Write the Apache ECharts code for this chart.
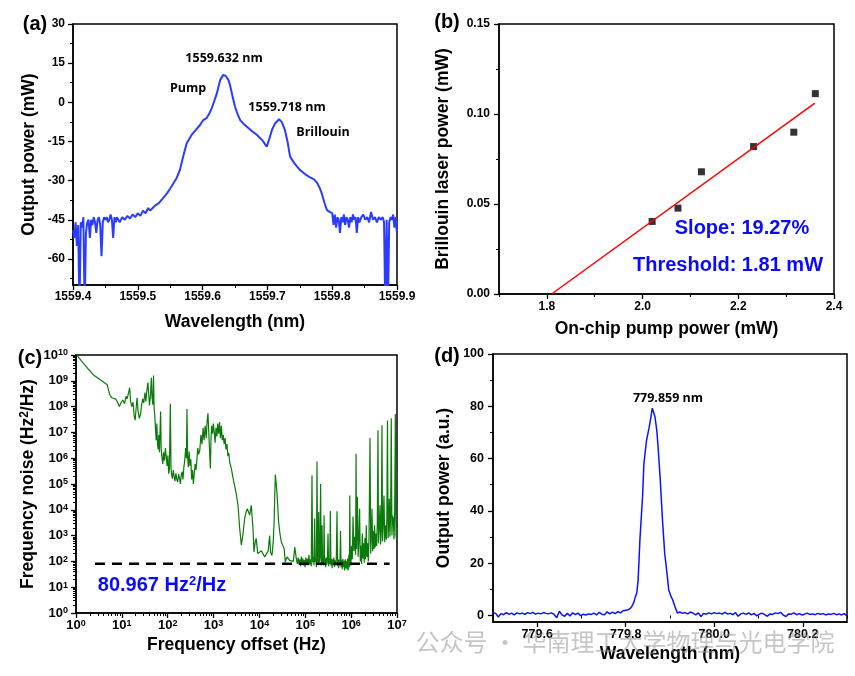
<!DOCTYPE html>
<html>
<head>
<meta charset="utf-8">
<script src="https://cdn.jsdelivr.net/npm/echarts@6.0.0/dist/echarts.min.js"></script>
<style>
  html, body { margin: 0; padding: 0; background: #fff; }
  #chart { width: 855px; height: 676px; }
</style>
</head>
<body>
<div id="chart"></div>
<script>
// (a) optical spectrum: [wavelength (nm), output power]
const aSpectrum = [
  [1559.400,-49],[1559.402,-52],[1559.404,-46],[1559.406,-55],[1559.408,-47],[1559.410,-80],[1559.412,-46],[1559.414,-48],[1559.416,-44],[1559.418,-80],
  [1559.420,-50],[1559.422,-46],[1559.424,-45],[1559.426,-52],[1559.428,-45],[1559.430,-47],[1559.432,-44],[1559.434,-46],[1559.436,-50],[1559.438,-45],
  [1559.440,-44],[1559.442,-47],[1559.444,-59],[1559.446,-46],[1559.448,-44],[1559.450,-45],[1559.452,-44],[1559.454,-46],[1559.456,-45],[1559.458,-43],
  [1559.460,-45],[1559.462,-52],[1559.464,-44],[1559.466,-46],[1559.468,-44],[1559.472,-46],[1559.476,-44],[1559.480,-45],[1559.484,-43.5],[1559.488,-44.5],
  [1559.492,-43],[1559.496,-44],[1559.500,-42.5],[1559.504,-43.5],[1559.508,-41.5],[1559.512,-42.5],[1559.516,-40.5],[1559.519,-41.5],[1559.523,-40.5],[1559.527,-39.5],
  [1559.532,-38.7],[1559.538,-37],[1559.545,-34.9],[1559.550,-33],[1559.555,-31],[1559.560,-29],[1559.565,-25.9],[1559.570,-20.8],[1559.5755,-15.7],[1559.583,-12.5],
  [1559.590,-10.5],[1559.596,-8.7],[1559.601,-6.8],[1559.606,-6.1],[1559.610,-4.5],[1559.614,-2.3],[1559.618,0.5],[1559.622,3.4],[1559.627,8.5],[1559.632,10.5],
  [1559.636,10],[1559.640,8.5],[1559.6423,6.6],[1559.646,2.5],[1559.650,-1.7],[1559.654,-4.5],[1559.658,-6.8],[1559.663,-8.2],[1559.668,-9.3],[1559.676,-11],
  [1559.684,-12.5],[1559.692,-14.5],[1559.699,-17],[1559.703,-14],[1559.707,-10.6],[1559.712,-8],[1559.718,-6.5],[1559.722,-7.5],[1559.727,-10.6],[1559.731,-15],
  [1559.735,-20.8],[1559.742,-23.5],[1559.750,-25.9],[1559.758,-27.5],[1559.766,-28.8],[1559.772,-29.5],[1559.777,-31],[1559.781,-33],[1559.784,-35],[1559.788,-38.5],
  [1559.792,-41.3],[1559.796,-42],[1559.800,-42.5],[1559.802,-47],[1559.804,-43],[1559.806,-48],[1559.808,-44],[1559.810,-45],[1559.812,-50],[1559.814,-44],
  [1559.816,-46],[1559.818,-43],[1559.820,-47],[1559.822,-44],[1559.824,-45],[1559.826,-48],[1559.828,-44],[1559.830,-46],[1559.832,-43],[1559.834,-45],
  [1559.836,-44],[1559.838,-50],[1559.840,-44],[1559.842,-46],[1559.845,-44],[1559.848,-43],[1559.851,-45],[1559.854,-44],[1559.857,-46],[1559.860,-42],
  [1559.863,-45],[1559.866,-44],[1559.869,-46],[1559.872,-44],[1559.875,-45],[1559.878,-44],[1559.880,-46],[1559.882,-80],[1559.884,-45],[1559.886,-80],
  [1559.888,-46],[1559.890,-44],[1559.892,-45],[1559.894,-43],[1559.896,-48],[1559.898,-44],[1559.900,-50]
];
const aYLabels = [-60, -45, -30, -15, 0, 15, 30];
const aYMinor = [-67.5, -52.5, -37.5, -22.5, -7.5, 7.5, 22.5];

// (b) Brillouin laser power vs on-chip pump power
const bPump = [2.020, 2.074, 2.123, 2.232, 2.316, 2.361];
const bBrillouin = [0.0403, 0.0477, 0.0679, 0.0819, 0.0899, 0.1113];
const bFitPump = [1.81, 2.36];
const bFitPower = [0, 0.106];
const bXLabels = [1.8, 2.0, 2.2, 2.4];
const bXMinor = [1.7, 1.9, 2.1, 2.3];

// (c) frequency noise: [offset (Hz), noise (Hz^2/Hz)]
const cSpectrum = [
  [1,1.1e10],[1.3,6e9],[1.8,3e9],[2.5,1.6e9],[3.5,1.05e9],[4.8,7e8],[5.4,3.0e8],[6.0,2.2e8],[6.6,2.6e8],[7.3,2.0e8],
  [8.0,1.5e8],[8.8,1.0e8],[9.6,1.4e8],[10.5,1.8e8],[11.5,1.3e8],[12.3,2.5e8],[13.0,2.0e8],[14.0,3.4e8],[14.8,5.5e8],[15.5,1.6e8],
  [16.5,1.0e8],[17.5,1.5e8],[18.5,4.5e7],[19.5,3.0e7],[20.5,9e7],[21.5,2.2e8],[22.5,7e7],[24,3.5e7],[25.5,5e7],[27,1.2e8],
  [28.5,2.0e8],[30,1.4e8],[32,3.5e8],[33.5,1.6e8],[35,4.0e8],[37,8.5e8],[38.5,3.0e8],[40,1.1e8],[42,2.5e8],[44,1.3e9],
  [45.5,2.2e8],[47.5,1.2e8],[49,1.6e9],[50.5,9e7],[52,5e7],[54,1.5e7],[56,5e6],[58,2.2e7],[60,3.5e6],[62,2.2e6],
  [64,8e6],[66,1.7e6],[70,6.5e7],[72,2.5e6],[75,1.0e6],[78,6e5],[81,1.7e6],[85,8e5],[89,2.5e6],[93,1.1e6],
  [97,5e5],[101,1.3e6],[105,2.5e5],[109,4e5],[114,1.3e8],[118,4e5],[122,2.2e5],[127,1.6e5],[132,3.5e5],[138,2.0e5],
  [144,1.3e5],[151,2.6e5],[158,1.5e5],[165,1.2e5],[173,2.4e5],[181,1.6e5],[189,1.0e5],[197,2.2e5],[206,3.0e5],[215,1.5e5],
  [225,4.5e5],[235,8e5],[246,2.5e6],[256,1.0e6],[263,8e7],[271,1.2e6],[281,4.5e5],[293,1.8e6],[306,5e5],[319,9e5],
  [333,1.5e5],[348,3.5e5],[363,1.0e5],[379,2.5e5],[396,6e5],[414,3.5e5],[433,9e5],[452,2.5e6],[472,1.4e6],[500,2.0e6],
  [530,8e6],[560,3.5e6],[590,1.5e7],[620,5e6],[655,1.8e7],[690,6e6],[720,2.5e7],[755,5.5e7],[790,8e6],[851,4e5],
  [880,6e6],[910,1.8e7],[950,9e6],[990,2.2e7],[1030,1.1e7],[1080,4e6],[1130,1.5e7],[1180,7e6],[1230,2.2e7],[1290,9e6],
  [1350,2.5e7],[1410,6e6],[1480,1.8e7],[1550,5e6],[1620,8e6],[1700,3.5e6],[1780,6e6],[1870,2.2e6],[1960,3.5e6],[2050,1.2e6],
  [2150,1.6e6],[2250,7e5],[2360,8e5],[2470,3.5e5],[2590,4e5],[2710,1.4e5],[2890,1.6e5],[3100,4.5e4],[3410,1.5e4],[3700,2.0e3],
  [4030,4.3e2],[4400,1.2e3],[4760,4.6e3],[5100,8e3],[5450,1.1e4],[6120,6.2e3],[6660,1.5e4],[7000,4e3],[7240,1.9e3],[7600,2.3e2],
  [8100,6e2],[8500,7.8e2],[9200,2.0e2],[10100,1.7e2],[11000,2.6e2],[12000,2.3e2],[13000,1.5e2],[14200,1.3e2],[15500,2.5e2],[16700,1.0e3],
  [17500,2.2e2],[18800,1.7e2],[20000,6e2],[20800,2.5e3],[22200,2.3e5],[24100,4.9e4],[26200,3.4e3],[28000,1.2e3],[30000,5.7e2],[34500,3.2e2],
  [36600,95],[40000,150],[45500,110],[50000,130],[55000,100],[58900,360],[63700,130],[67000,80],[70000,140],[73000,75],
  [76000,120],[79000,65],[82000,150],[85000,90],[88000,130],[91000,70],[95000,115],[99000,60],[103000,140],[107000,85],
  [111000,125],[115000,70],[120000,180],[125000,75],[130000,120],[135000,65],[140000,2.2e5],[145000,90],[150000,150],[155000,70],
  [160000,4.6e3],[165000,95],[170000,130],[175000,60],[180000,7.5e5],[186000,110],[191000,75],[196000,8.3e3],[201000,90],[208000,140],
  [216000,1.0e5],[222000,70],[228000,160],[232000,2.5e3],[238000,80],[245000,120],[251000,70],[257000,6.2e3],[263000,95],[270000,130],
  [278000,60],[286000,140],[295000,75],[304000,120],[313000,1.2e3],[322000,65],[332000,130],[342000,80],[352000,9e3],[362000,70],
  [373000,125],[384000,55],[396000,120],[408000,75],[420000,140],[433000,60],[446000,110],[460000,70],[475000,130],[492000,8.7e3],
  [505000,65],[520000,120],[536000,55],[552000,115],[569000,70],[586000,1.5e3],[604000,60],[622000,110],[641000,50],[660000,125],
  [680000,60],[700000,105],[722000,45],[744000,120],[766000,55],[790000,100],[814000,50],[839000,130],[864000,45],[890000,180],
  [917000,60],[935000,3.6e4],[955000,150],[985000,70],[1.02e6,400],[1.06e6,120],[1.1e6,5.5e3],[1.15e6,250],[1.2e6,900],[1.25e6,180],
  [1.28e6,1.5e6],[1.31e6,300],[1.37e6,3.2e4],[1.42e6,150],[1.47e6,600],[1.53e6,1.1e4],[1.58e6,100],[1.63e6,400],[1.69e6,80],[1.75e6,1.2e3],
  [1.81e6,130],[1.87e6,500],[1.93e6,90],[2.0e6,800],[2.07e6,120],[2.14e6,2.5e3],[2.21e6,150],[2.29e6,500],[2.37e6,100],[2.45e6,700],
  [2.58e6,6e6],[2.67e6,200],[2.76e6,900],[2.85e6,1.1e4],[2.95e6,250],[3.05e6,1.5e3],[3.15e6,300],[3.24e6,2.5e3],[3.35e6,350],[3.47e6,1.2e3],
  [3.6e6,400],[3.72e6,3e3],[3.85e6,1.2e7],[3.95e6,500],[4.1e6,2e3],[4.26e6,1.5e4],[4.4e6,450],[4.55e6,1.5e3],[4.7e6,1.9e7],[4.85e6,600],
  [5.0e6,2.2e3],[5.2e6,3.6e4],[5.4e6,550],[5.6e6,2.5e3],[5.85e6,700],[6.0e6,4e3],[6.2e6,2.9e7],[6.4e6,800],[6.6e6,3e3],[6.8e6,2.7e4],
  [7.0e6,900],[7.25e6,5e3],[7.5e6,3.5e7],[7.75e6,1000],[8.0e6,6e3],[8.3e6,4.6e3],[8.6e6,700],[8.9e6,8e3],[9.2e6,5.2e7],[9.5e6,1100],
  [9.7e6,770],[1e7,2e3]
];
const cFloorLevel = 80.967;
const cFloorRange = [2.6, 6.9e6];
const cXLabels = [1e0, 1e1, 1e2, 1e3, 1e4, 1e5, 1e6, 1e7];
const cYLabels = [1e0, 1e1, 1e2, 1e3, 1e4, 1e5, 1e6, 1e7, 1e8, 1e9, 1e10];
const cXMinor = [];
const cYMinor = [];
for (let e = 0; e < 10; e++) {
  for (let m = 2; m <= 9; m++) {
    if (e < 7) cXMinor.push(m * Math.pow(10, e));
    cYMinor.push(m * Math.pow(10, e));
  }
}

// (d) second-harmonic spectrum: [wavelength (nm), output power (a.u.)]
const dSpectrum = [
  [779.500,1.2],[779.506,0.8],[779.512,-0.6],[779.518,0.7],[779.524,0.3],[779.530,1.1],[779.536,0.4],[779.542,0.9],[779.548,0.2],[779.554,1.0],
  [779.560,0.6],[779.566,0.9],[779.572,0.4],[779.578,1.1],[779.584,0.7],[779.590,1.2],[779.596,0.5],[779.602,0.9],[779.608,0.6],[779.614,1.1],
  [779.620,0.8],[779.626,0.7],[779.632,1.0],[779.638,0.4],[779.644,-0.9],[779.650,1.6],[779.656,0.2],[779.662,-0.3],[779.668,0.8],[779.674,-0.2],
  [779.680,1.0],[779.686,0.3],[779.692,0.9],[779.698,-0.1],[779.704,0.5],[779.710,0.2],[779.716,0.6],[779.722,0.4],[779.728,0.9],[779.734,0.2],
  [779.740,1.2],[779.746,0.5],[779.752,0.3],[779.758,1.4],[779.764,0.6],[779.770,1.3],[779.776,0.7],[779.782,1.5],[779.788,1.0],[779.794,1.8],
  [779.800,2.0],[779.806,2.2],[779.811,2.8],[779.815,3.8],[779.819,5.4],[779.822,7.3],[779.825,8.6],[779.828,13.6],[779.832,28.9],[779.838,45.5],
  [779.841,58],[779.847,67],[779.853,72],[779.857,76],[779.860,79.3],[779.866,76],[779.870,71],[779.873,64.6],[779.878,51.8],[779.883,36.6],
  [779.888,23.8],[779.894,14.9],[779.897,9.8],[779.903,7],[779.906,6],[779.911,3.4],[779.914,3.8],[779.917,0.9],[779.922,1.4],[779.928,0.8],
  [779.934,1.1],[779.940,0.6],[779.946,1.3],[779.952,0.9],[779.958,0.2],[779.964,1.0],[779.970,-0.4],[779.976,0.8],[779.982,0.5],[779.988,1.0],
  [779.994,0.6],[780.000,1.1],[780.006,0.7],[780.012,0.9],[780.018,0.5],[780.024,1.2],[780.030,0.6],[780.036,0.8],[780.042,0.3],[780.048,1.1],
  [780.054,-0.3],[780.060,0.6],[780.066,0.9],[780.072,0.4],[780.078,1.0],[780.084,0.2],[780.090,0.8],[780.096,-0.2],[780.102,0.5],[780.108,0.9],
  [780.114,0.3],[780.120,-0.3],[780.126,0.6],[780.132,0.4],[780.138,1.0],[780.144,0.7],[780.150,1.2],[780.156,0.1],[780.162,-0.4],[780.168,0.6],
  [780.174,0.5],[780.180,1.0],[780.186,0.3],[780.192,0.7],[780.198,0.2],[780.204,0.5],[780.210,0.9],[780.216,0.4],[780.222,0.6],[780.228,0.3],
  [780.234,0.8],[780.240,0.5],[780.246,0.7],[780.252,0.2],[780.258,0.6],[780.264,0.4],[780.270,0.8],[780.276,0.3],[780.282,0.6],[780.288,0.2],
  [780.294,0.7],[780.300,-0.2]
];
const dXLabels = [779.6, 779.8, 780.0, 780.2];
const dXMinor = [779.5, 779.7, 779.9, 780.1, 780.3];
const dYLabels = [0, 20, 40, 60, 80, 100];
const dYMinor = [10, 30, 50, 70, 90];

const FONT = '"Liberation Sans", Arial, sans-serif';
const BLACK = '#000';
const BLUE = '#0a0aff';

function tickFont(size) {
  return { color: BLACK, fontFamily: FONT, fontWeight: 'bold', fontSize: size };
}
const nameStyle = { color: BLACK, fontFamily: FONT, fontWeight: 'bold', fontSize: 17.5 };
const axisLine = { show: true, onZero: false, lineStyle: { color: BLACK, width: 1.5 } };
const majorTick = { show: true, length: 5, lineStyle: { color: BLACK, width: 1.3 } };

// helper axis that only draws short minor ticks on top of a main axis
function minorAxis(gridIndex, position, type, min, max, values) {
  return {
    gridIndex, position, type, min, max,
    axisLine: { show: false },
    splitLine: { show: false },
    axisLabel: { show: false },
    axisTick: { show: true, length: 3, customValues: values, lineStyle: { color: BLACK, width: 1 } }
  };
}

function grid(left, top, width, height) {
  return {
    left, top, width, height,
    show: true, borderColor: BLACK, borderWidth: 1.5,
    containLabel: false, outerBoundsMode: 'none'
  };
}

const pow10 = v => '{b|10}{s|' + Math.round(Math.log10(v)) + '}';
const powRich = {
  b: { fontFamily: FONT, fontWeight: 'bold', fontSize: 13, color: BLACK },
  s: { fontFamily: FONT, fontWeight: 'bold', fontSize: 9, color: BLACK, verticalAlign: 'top' }
};

const option = {
  backgroundColor: '#fff',
  animation: false,
  grid: [
    grid(73, 24, 324, 261),
    grid(499, 24, 335, 270),
    grid(76, 355, 321, 258),
    grid(493, 354, 354, 268)
  ],
  xAxis: [
    { // 0: (a)
      gridIndex: 0, type: 'value', position: 'bottom', min: 1559.4, max: 1559.9, interval: 0.1,
      name: 'Wavelength (nm)', nameLocation: 'middle', nameGap: 28, nameTextStyle: nameStyle,
      axisLine, axisTick: majorTick, splitLine: { show: false },
      minorTick: { show: true, splitNumber: 2, length: 3, lineStyle: { color: BLACK, width: 1 } },
      minorSplitLine: { show: false },
      axisLabel: Object.assign(tickFont(12), { margin: 6, formatter: v => v.toFixed(1), showMinLabel: true, showMaxLabel: true, hideOverlap: false })
    },
    { // 1: (b)
      gridIndex: 1, type: 'value', position: 'bottom', min: 1.7, max: 2.4,
      name: 'On-chip pump power (mW)', nameLocation: 'middle', nameGap: 26, nameTextStyle: nameStyle,
      axisLine, splitLine: { show: false },
      axisTick: Object.assign({ customValues: bXLabels }, majorTick),
      axisLabel: Object.assign(tickFont(12), { margin: 7, customValues: bXLabels, formatter: v => v.toFixed(1) })
    },
    minorAxis(1, 'bottom', 'value', 1.7, 2.4, bXMinor), // 2
    { // 3: (c)
      gridIndex: 2, type: 'log', logBase: 10, position: 'bottom', min: 1, max: 1e7,
      name: 'Frequency offset (Hz)', nameLocation: 'middle', nameGap: 23, nameTextStyle: nameStyle,
      axisLine, splitLine: { show: false },
      axisTick: Object.assign({ customValues: cXLabels }, majorTick),
      axisLabel: { margin: 6, fontSize: 13, customValues: cXLabels, formatter: pow10, rich: powRich }
    },
    minorAxis(2, 'bottom', 'log', 1, 1e7, cXMinor), // 4
    { // 5: (d)
      gridIndex: 3, type: 'value', position: 'bottom', min: 779.5, max: 780.3,
      name: 'Wavelength (nm)', nameLocation: 'middle', nameGap: 23, nameTextStyle: nameStyle,
      axisLine, splitLine: { show: false },
      axisTick: Object.assign({ customValues: dXLabels }, majorTick),
      axisLabel: Object.assign(tickFont(12.5), { margin: 6, customValues: dXLabels, formatter: v => v.toFixed(1) })
    },
    minorAxis(3, 'bottom', 'value', 779.5, 780.3, dXMinor) // 6
  ],
  yAxis: [
    { // 0: (a)
      gridIndex: 0, type: 'value', position: 'left', min: -70, max: 30,
      name: 'Output power (mW)', nameLocation: 'middle', nameGap: 35, nameTextStyle: nameStyle,
      axisLine, splitLine: { show: false },
      axisTick: Object.assign({ customValues: aYLabels }, majorTick),
      axisLabel: Object.assign(tickFont(12), { margin: 8, customValues: aYLabels })
    },
    minorAxis(0, 'left', 'value', -70, 30, aYMinor), // 1
    { // 2: (b)
      gridIndex: 1, type: 'value', position: 'left', min: 0, max: 0.15, interval: 0.05,
      name: 'Brillouin laser power (mW)', nameLocation: 'middle', nameGap: 47, nameTextStyle: nameStyle,
      axisLine, axisTick: majorTick, splitLine: { show: false },
      minorTick: { show: true, splitNumber: 2, length: 3, lineStyle: { color: BLACK, width: 1 } },
      minorSplitLine: { show: false },
      axisLabel: Object.assign(tickFont(12), { margin: 9, formatter: v => v.toFixed(2) })
    },
    { // 3: (c)
      gridIndex: 2, type: 'log', logBase: 10, position: 'left', min: 1, max: 1e10,
      name: 'Frequency noise (Hz{s|2}/Hz)', nameLocation: 'middle', nameGap: 39,
      nameTextStyle: Object.assign({
        rich: { s: { fontFamily: FONT, fontWeight: 'bold', fontSize: 12, color: BLACK, verticalAlign: 'top' } }
      }, nameStyle),
      axisLine, splitLine: { show: false },
      axisTick: Object.assign({ customValues: cYLabels }, majorTick),
      axisLabel: { margin: 8, fontSize: 13, customValues: cYLabels, formatter: pow10, rich: powRich }
    },
    minorAxis(2, 'left', 'log', 1, 1e10, cYMinor), // 4
    { // 5: (d)
      gridIndex: 3, type: 'value', position: 'left', min: -2.5, max: 100,
      name: 'Output power (a.u.)', nameLocation: 'middle', nameGap: 40, nameTextStyle: nameStyle,
      axisLine, splitLine: { show: false },
      axisTick: Object.assign({ customValues: dYLabels }, majorTick),
      axisLabel: Object.assign(tickFont(12.5), { margin: 9, customValues: dYLabels })
    },
    minorAxis(3, 'left', 'value', -2.5, 100, dYMinor) // 6
  ],
  series: [
    {
      type: 'line', xAxisIndex: 0, yAxisIndex: 0, data: aSpectrum,
      showSymbol: false, clip: true,
      lineStyle: { color: '#2b3cff', width: 2 }
    },
    {
      type: 'line', xAxisIndex: 1, yAxisIndex: 2,
      data: bFitPump.map((x, i) => [x, bFitPower[i]]),
      showSymbol: false, lineStyle: { color: '#ff0000', width: 1.5 }
    },
    {
      type: 'scatter', xAxisIndex: 1, yAxisIndex: 2,
      data: bPump.map((x, i) => [x, bBrillouin[i]]),
      symbol: 'rect', symbolSize: 7, itemStyle: { color: BLACK }
    },
    {
      type: 'line', xAxisIndex: 3, yAxisIndex: 3, data: cSpectrum,
      showSymbol: false, clip: true,
      lineStyle: { color: '#0b7a0b', width: 1.2 }
    },
    {
      type: 'line', xAxisIndex: 3, yAxisIndex: 3,
      data: cFloorRange.map(x => [x, cFloorLevel]),
      showSymbol: false,
      lineStyle: { color: BLACK, width: 2.6, type: [10, 7] }
    },
    {
      type: 'line', xAxisIndex: 5, yAxisIndex: 5, data: dSpectrum,
      showSymbol: false, clip: true,
      lineStyle: { color: '#0a14ff', width: 1.5 }
    }
  ],
  graphic: [
    { type: 'text', x: 35, y: 24, style: { text: '(a)', font: 'bold 20px ' + FONT, fill: BLACK, align: 'center', verticalAlign: 'middle' } },
    { type: 'text', x: 447, y: 22, style: { text: '(b)', font: 'bold 20px ' + FONT, fill: BLACK, align: 'center', verticalAlign: 'middle' } },
    { type: 'text', x: 30, y: 358, style: { text: '(c)', font: 'bold 20px ' + FONT, fill: BLACK, align: 'center', verticalAlign: 'middle' } },
    { type: 'text', x: 447, y: 356, style: { text: '(d)', font: 'bold 20px ' + FONT, fill: BLACK, align: 'center', verticalAlign: 'middle' } },

    { type: 'text', x: 224, y: 58, style: { text: '1559.632 nm', font: 'bold 12.5px "Open Sans", sans-serif', fill: BLACK, align: 'center', verticalAlign: 'middle' } },
    { type: 'text', x: 188, y: 88, style: { text: 'Pump', font: 'bold 12.5px "Open Sans", sans-serif', fill: BLACK, align: 'center', verticalAlign: 'middle' } },
    { type: 'text', x: 287, y: 107, style: { text: '1559.718 nm', font: 'bold 12.5px "Open Sans", sans-serif', fill: BLACK, align: 'center', verticalAlign: 'middle' } },
    { type: 'text', x: 323, y: 132, style: { text: 'Brillouin', font: 'bold 12.5px "Open Sans", sans-serif', fill: BLACK, align: 'center', verticalAlign: 'middle' } },

    { type: 'text', x: 742, y: 228, style: { text: 'Slope: 19.27%', font: 'bold 20px ' + FONT, fill: BLUE, align: 'center', verticalAlign: 'middle' } },
    { type: 'text', x: 728, y: 265, style: { text: 'Threshold: 1.81 mW', font: 'bold 20px ' + FONT, fill: BLUE, align: 'center', verticalAlign: 'middle' } },

    {
      type: 'text', x: 162, y: 585,
      style: {
        text: '{m|80.967 Hz}{s|2}{m|/Hz}', align: 'center', verticalAlign: 'middle',
        rich: {
          m: { fontFamily: FONT, fontWeight: 'bold', fontSize: 20, fill: BLUE },
          s: { fontFamily: FONT, fontWeight: 'bold', fontSize: 13, fill: BLUE, verticalAlign: 'top' }
        }
      }
    },

    { type: 'text', x: 668, y: 398, style: { text: '779.859 nm', font: 'bold 12.5px "Open Sans", sans-serif', fill: BLACK, align: 'center', verticalAlign: 'middle' } },

    { type: 'text', z: 100, x: 625, y: 642, style: { text: '公众号 · 华南理工大学物理与光电学院', font: '24px "Noto Sans CJK SC", sans-serif', fill: 'rgba(150,150,150,0.55)', align: 'center', verticalAlign: 'middle' } }
  ]
};

const chart = echarts.init(document.getElementById('chart'), null, { renderer: 'canvas' });
chart.setOption(option);
</script>
</body>
</html>
